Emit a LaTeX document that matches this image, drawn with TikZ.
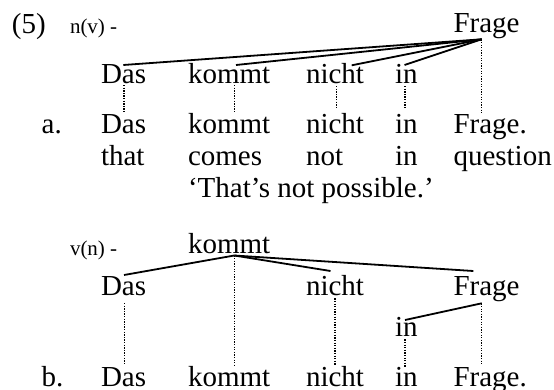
\documentclass[tikz,border=0pt]{standalone}
\usepackage{fontspec}
\setmainfont{Liberation Serif}
\begin{document}
\begin{tikzpicture}[x=1pt,y=-1pt,
  w/.style={anchor=base west,inner sep=0pt,outer sep=0pt,font=\fontsize{29}{29}\selectfont},
  sm/.style={anchor=base west,inner sep=0pt,outer sep=0pt,font=\fontsize{21}{21}\selectfont},
  tie/.style={line width=1.8pt},
  dep/.style={line width=1.4pt,dash pattern=on 1.3pt off 1.3pt}]
\useasboundingbox (0,0) rectangle (554,389);
% example (a)
\node[w] (num) at (12,33) {(5)};
\node[sm] (lab1) at (70,33) {n(v) -};
\node[w] (frage1) at (453.5,32) {Frage};
\node[w] (das1) at (101,83) {Das};
\node[w] (kommt1) at (188,83) {kommt};
\node[w] (nicht1) at (306,83) {nicht};
\node[w] (in1) at (395,83) {in};
\node[w] (la) at (41.7,133.5) {a.};
\node[w] (das2) at (101,133.5) {Das};
\node[w] (kommt2) at (188,133.5) {kommt};
\node[w] (nicht2) at (306,133.5) {nicht};
\node[w] (in2) at (395,133.5) {in};
\node[w] (frage2) at (453.5,133.5) {Frage.};
\node[w] (g1) at (101,165) {that};
\node[w] (g2) at (188,165) {comes};
\node[w] (g3) at (306,165) {not};
\node[w] (g4) at (395,165) {in};
\node[w] (g5) at (453.5,165) {question};
\node[w] (tr) at (188,197) {‘That’s not possible.’};
\draw[tie] ([shift={(28.2,7.3)}]frage1.base west) -- ([shift={(22.3,-18)}]das1.base west);
\draw[tie] ([shift={(28.2,7.3)}]frage1.base west) -- ([shift={(48,-18)}]kommt1.base west);
\draw[tie] ([shift={(28.2,7.3)}]frage1.base west) -- ([shift={(45.7,-17.7)}]nicht1.base west);
\draw[tie] ([shift={(28.2,7.3)}]frage1.base west) -- ([shift={(9.5,-18)}]in1.base west);
\draw[dep] ([shift={(22.8,2)}]das1.base west) -- ([shift={(22.8,-20)}]das2.base west);
\draw[dep] ([shift={(46.3,2)}]kommt1.base west) -- ([shift={(46.3,-20)}]kommt2.base west);
\draw[dep] ([shift={(30.7,3)}]nicht1.base west) -- ([shift={(30.7,-25.2)}]nicht2.base west);
\draw[dep] ([shift={(10,3)}]in1.base west) -- ([shift={(10,-25.2)}]in2.base west);
\draw[dep] ([shift={(28.2,7.3)}]frage1.base west) -- ([shift={(28.2,-20.8)}]frage2.base west);
% example (b)
\node[sm] (lab2) at (70,255) {v(n) -};
\node[w] (kommt3) at (188,253.5) {kommt};
\node[w] (das3) at (101,295) {Das};
\node[w] (nicht3) at (306,295) {nicht};
\node[w] (frage3) at (453.5,295) {Frage};
\node[w] (in3) at (395,336.7) {in};
\node[w] (lb) at (41.7,386.5) {b.};
\node[w] (das4) at (101,386.5) {Das};
\node[w] (kommt4) at (188,386.5) {kommt};
\node[w] (nicht4) at (306,386.5) {nicht};
\node[w] (in4) at (395,386.5) {in};
\node[w] (frage4) at (453.5,386.5) {Frage.};
\draw[tie] ([shift={(46.3,2)}]kommt3.base west) -- ([shift={(23,-20)}]das3.base west);
\draw[tie] ([shift={(46.3,2)}]kommt3.base west) -- ([shift={(24.5,-24)}]nicht3.base west);
\draw[tie] ([shift={(46.3,2)}]kommt3.base west) -- ([shift={(19.8,-24)}]frage3.base west);
\draw[tie] ([shift={(28.2,8.3)}]frage3.base west) -- ([shift={(10,-16.7)}]in3.base west);
\draw[dep] ([shift={(23.3,8)}]das3.base west) -- ([shift={(23.3,-23.2)}]das4.base west);
\draw[dep] ([shift={(46.3,2)}]kommt3.base west) -- ([shift={(46.3,-19.8)}]kommt4.base west);
\draw[dep] ([shift={(29,3.3)}]nicht3.base west) -- ([shift={(29,-21.5)}]nicht4.base west);
\draw[dep] ([shift={(10,2.6)}]in3.base west) -- ([shift={(10,-19.8)}]in4.base west);
\draw[dep] ([shift={(28.2,8.3)}]frage3.base west) -- ([shift={(28.2,-21.5)}]frage4.base west);
\end{tikzpicture}
\end{document}
